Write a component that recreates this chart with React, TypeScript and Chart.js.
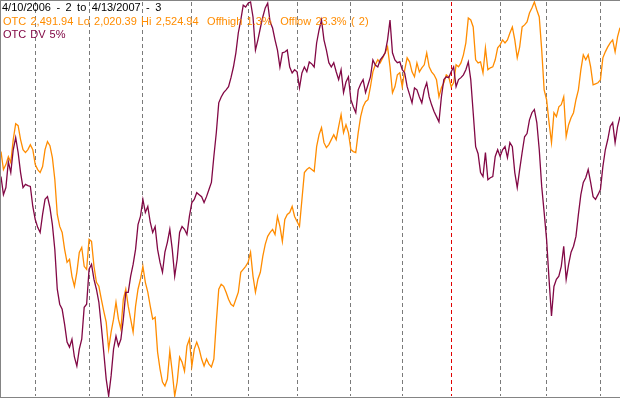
import React, { useEffect, useRef } from "react";
import { Chart, registerables } from "chart.js";

Chart.register(...registerables);

// Trading-day index 0 = 4/10/2006 ... 253 = 4/13/2007
const monthStartDays = [14, 36, 58, 78, 101, 121, 143, 164, 184, 204, 223, 245];
const yearStartDay = 184;

const otcLow = 2020.39;
const otcHigh = 2524.94;

const otcValues = [
  2333.4, 2310.4, 2316.7, 2327.0, 2319.3, 2348.7, 2369.1, 2366.6, 2348.7, 2335.9,
  2332.1, 2335.9, 2342.3, 2335.9, 2316.7, 2310.4, 2306.5, 2314.2, 2335.9, 2346.1,
  2341.0, 2325.7, 2297.6, 2252.9, 2237.6, 2229.9, 2208.2, 2191.6, 2195.4, 2173.7,
  2160.9, 2178.8, 2204.3, 2210.7, 2186.5, 2182.6, 2221.0, 2218.4, 2186.5, 2166.0,
  2160.9, 2144.3, 2129.0, 2114.9, 2080.5, 2102.2, 2118.8, 2140.5, 2118.8, 2106.0,
  2144.3, 2157.1, 2135.4, 2118.8, 2102.2, 2135.4, 2157.1, 2169.9, 2186.5, 2166.0,
  2153.3, 2135.4, 2118.8, 2121.3, 2076.6, 2054.9, 2038.3, 2033.2, 2042.1, 2077.9,
  2051.1, 2020.4, 2038.3, 2070.2, 2063.8, 2052.3, 2084.3, 2093.2, 2058.7, 2080.5,
  2089.4, 2080.5, 2067.7, 2058.7, 2067.7, 2061.3, 2057.5, 2067.7, 2114.9, 2157.1,
  2163.5, 2160.9, 2153.3, 2144.3, 2137.9, 2135.4, 2144.3, 2153.3, 2178.8, 2182.6,
  2186.5, 2191.6, 2204.3, 2173.7, 2153.3, 2169.9, 2178.8, 2199.2, 2214.6, 2224.8,
  2229.9, 2233.7, 2227.3, 2250.3, 2237.6, 2218.4, 2246.5, 2252.9, 2255.4, 2263.1,
  2250.3, 2243.9, 2237.6, 2272.0, 2306.5, 2310.4, 2312.9, 2310.4, 2307.8, 2339.7,
  2355.1, 2364.0, 2344.8, 2338.5, 2342.3, 2348.7, 2355.1, 2348.7, 2365.3, 2380.6,
  2357.6, 2367.8, 2357.6, 2335.9, 2333.4, 2332.1, 2357.6, 2378.1, 2390.8, 2397.2,
  2399.8, 2416.4, 2435.5, 2444.5, 2450.9, 2447.0, 2453.4, 2459.8, 2467.5, 2441.9,
  2408.7, 2416.4, 2431.7, 2434.3, 2416.4, 2438.1, 2453.4, 2448.3, 2435.5, 2429.2,
  2447.0, 2435.5, 2440.6, 2444.5, 2459.8, 2441.9, 2435.5, 2431.7, 2425.3, 2403.6,
  2415.1, 2421.5, 2431.7, 2429.2, 2416.4, 2421.5, 2444.5, 2441.9, 2447.0, 2457.3,
  2472.6, 2504.5, 2502.0, 2493.0, 2450.9, 2447.0, 2448.3, 2434.3, 2466.2, 2438.1,
  2440.6, 2441.9, 2450.9, 2466.2, 2470.0, 2476.4, 2472.6, 2476.4, 2485.3, 2493.0,
  2476.4, 2453.4, 2467.5, 2493.0, 2495.6, 2499.4, 2510.9, 2517.3, 2524.9, 2514.7,
  2505.8, 2463.6, 2412.5, 2399.8, 2370.4, 2344.8, 2383.2, 2378.1, 2390.8, 2393.4,
  2403.6, 2352.5, 2367.8, 2376.8, 2383.2, 2399.8, 2412.5, 2438.1, 2457.3, 2450.9,
  2457.3, 2441.9, 2418.9, 2420.2, 2421.5, 2425.3, 2453.4, 2461.1, 2467.5, 2472.6,
  2476.4, 2461.1, 2480.2, 2491.94,
];

const dvValues = [
  55.7, 51.1, 52.9, 59.5, 56.7, 62.5, 65.6, 61.8, 56.7, 52.9,
  53.7, 53.4, 53.2, 48.1, 44.8, 42.8, 41.5, 46.1, 49.9, 50.6,
  47.8, 43.5, 37.2, 27.1, 23.3, 22.0, 18.2, 13.7, 12.4, 14.4,
  9.9, 7.6, 11.9, 14.4, 22.5, 23.3, 32.2, 33.4, 29.6, 27.1,
  23.8, 17.7, 11.1, 4.3, 0.0, 5.1, 11.9, 15.2, 12.7, 14.4,
  19.5, 26.3, 26.3, 30.4, 33.4, 37.2, 43.5, 45.6, 49.9, 46.6,
  48.1, 44.1, 41.5, 43.0, 37.2, 33.9, 31.4, 36.5, 39.0, 42.3,
  37.2, 30.4, 34.7, 41.5, 43.0, 42.3, 41.0, 45.6, 49.1, 49.9,
  51.6, 51.1, 50.6, 49.1, 50.6, 52.4, 54.2, 60.8, 66.8, 74.4,
  75.9, 77.0, 77.7, 78.5, 80.8, 83.5, 87.1, 92.2, 95.4, 99.2,
  98.7, 99.7, 100.0, 96.2, 87.8, 90.4, 93.4, 96.2, 98.5, 99.7,
  94.9, 93.4, 90.4, 87.8, 83.5, 87.1, 87.3, 87.8, 83.5, 82.0,
  82.8, 82.3, 78.2, 82.0, 83.5, 82.3, 84.8, 84.3, 83.5, 89.6,
  92.9, 95.4, 90.4, 87.8, 84.6, 83.5, 84.6, 82.3, 80.3, 82.8,
  77.0, 79.7, 81.0, 75.2, 73.4, 71.9, 77.7, 79.2, 80.3, 77.0,
  79.0, 81.0, 85.3, 84.0, 83.5, 85.3, 86.1, 87.1, 90.4, 95.4,
  87.1, 85.3, 84.6, 84.8, 82.8, 82.0, 78.5, 76.5, 74.4, 78.2,
  77.7, 75.9, 74.4, 77.7, 79.5, 75.9, 73.9, 72.2, 70.9, 69.6,
  75.9, 80.3, 81.0, 80.8, 82.3, 83.5, 78.5, 80.3, 80.8, 81.5,
  82.8, 84.8, 80.3, 71.9, 63.3, 61.5, 56.7, 55.7, 61.8, 54.9,
  55.4, 55.7, 60.8, 62.5, 60.8, 62.5, 63.3, 60.5, 64.3, 63.3,
  56.7, 52.9, 57.5, 61.8, 65.8, 66.6, 70.1, 71.9, 72.7, 69.4,
  62.5, 53.2, 46.6, 39.7, 29.6, 20.3, 27.8, 29.6, 30.4, 32.9,
  38.0, 29.6, 33.4, 36.5, 38.0, 40.5, 46.1, 51.1, 54.2, 55.4,
  57.5, 54.2, 50.6, 49.9, 51.1, 52.4, 58.2, 62.5, 65.1, 68.4,
  69.4, 64.3, 68.4, 70.9,
];

const titleText = "4/10/2006 - 2 to 4/13/2007 - 3";
const otcLegendText =
  "OTC 2,491.94 Lo 2,020.39 Hi 2,524.94  Offhigh 1.3%  Offlow 23.3% ( 2)";
const dvLegendText = "OTC DV 5%";

const ORANGE = "#FF8C00";
const PURPLE = "#820845";
const GRID_GRAY = "#7A7A7A";
const GRID_RED = "#E00000";

export default function App() {
  const canvasRef = useRef<HTMLCanvasElement>(null);

  useEffect(() => {
    const canvas = canvasRef.current;
    if (!canvas) return;
    const chart = new Chart(canvas, {
      type: "line",
      data: {
        datasets: [
          {
            label: "OTC DV 5%",
            data: dvValues.map((v, i) => ({ x: i, y: v })),
            borderColor: PURPLE,
            borderWidth: 1.3,
            pointRadius: 0,
            tension: 0,
            yAxisID: "yDv",
            clip: 3,
          },
          {
            label: "OTC",
            data: otcValues.map((v, i) => ({ x: i, y: v })),
            borderColor: ORANGE,
            borderWidth: 1.3,
            pointRadius: 0,
            tension: 0,
            yAxisID: "yOtc",
            clip: 3,
          },
        ],
      },
      options: {
        animation: false,
        responsive: false,
        devicePixelRatio: 1,
        layout: { padding: { top: 1, bottom: 1, left: 0, right: 0 } },
        plugins: { legend: { display: false }, tooltip: { enabled: false } },
        scales: {
          x: {
            type: "linear",
            min: 0,
            max: otcValues.length - 1,
            afterBuildTicks: (axis: any) => {
              axis.ticks = monthStartDays.map((v) => ({ value: v }));
            },
            ticks: { display: false },
            grid: {
              drawTicks: false,
              lineWidth: 1,
              color: (ctx: any) =>
                ctx.tick && ctx.tick.value === yearStartDay ? GRID_RED : GRID_GRAY,
            },
            border: { display: false, dash: [4, 3] },
          },
          yOtc: {
            type: "linear",
            display: false,
            min: otcLow,
            max: otcHigh,
          },
          yDv: {
            type: "linear",
            display: false,
            min: 0,
            max: 100,
          },
        },
      },
    });
    return () => chart.destroy();
  }, []);

  const textBase: React.CSSProperties = {
    position: "absolute",
    left: 3,
    fontFamily: "'Liberation Sans', Arial, sans-serif",
    fontSize: 11,
    lineHeight: "13px",
    whiteSpace: "pre",
  };

  return (
    <div
      style={{
        position: "relative",
        width: 620,
        height: 399,
        background: "#ffffff",
        overflow: "hidden",
      }}
    >
      <style>{"body{margin:0;}"}</style>
      <div
        style={{
          position: "absolute",
          left: 0,
          top: 0,
          width: 620,
          height: 398,
          boxSizing: "border-box",
          borderTop: "1px solid #848484",
          borderLeft: "1px solid #848484",
          borderBottom: "1px solid #848484",
        }}
      >
        <canvas
          ref={canvasRef}
          width={619}
          height={396}
          style={{ display: "block", width: 619, height: 396 }}
        />
      </div>
      <div style={{ ...textBase, left: 2, top: 1, color: "#000000", wordSpacing: "2.4px" }}>
        {titleText}
      </div>
      <div style={{ ...textBase, top: 15, color: ORANGE, wordSpacing: "1.2px" }}>
        {otcLegendText}
      </div>
      <div style={{ ...textBase, top: 28, color: PURPLE, wordSpacing: "1px" }}>
        {dvLegendText}
      </div>
    </div>
  );
}
